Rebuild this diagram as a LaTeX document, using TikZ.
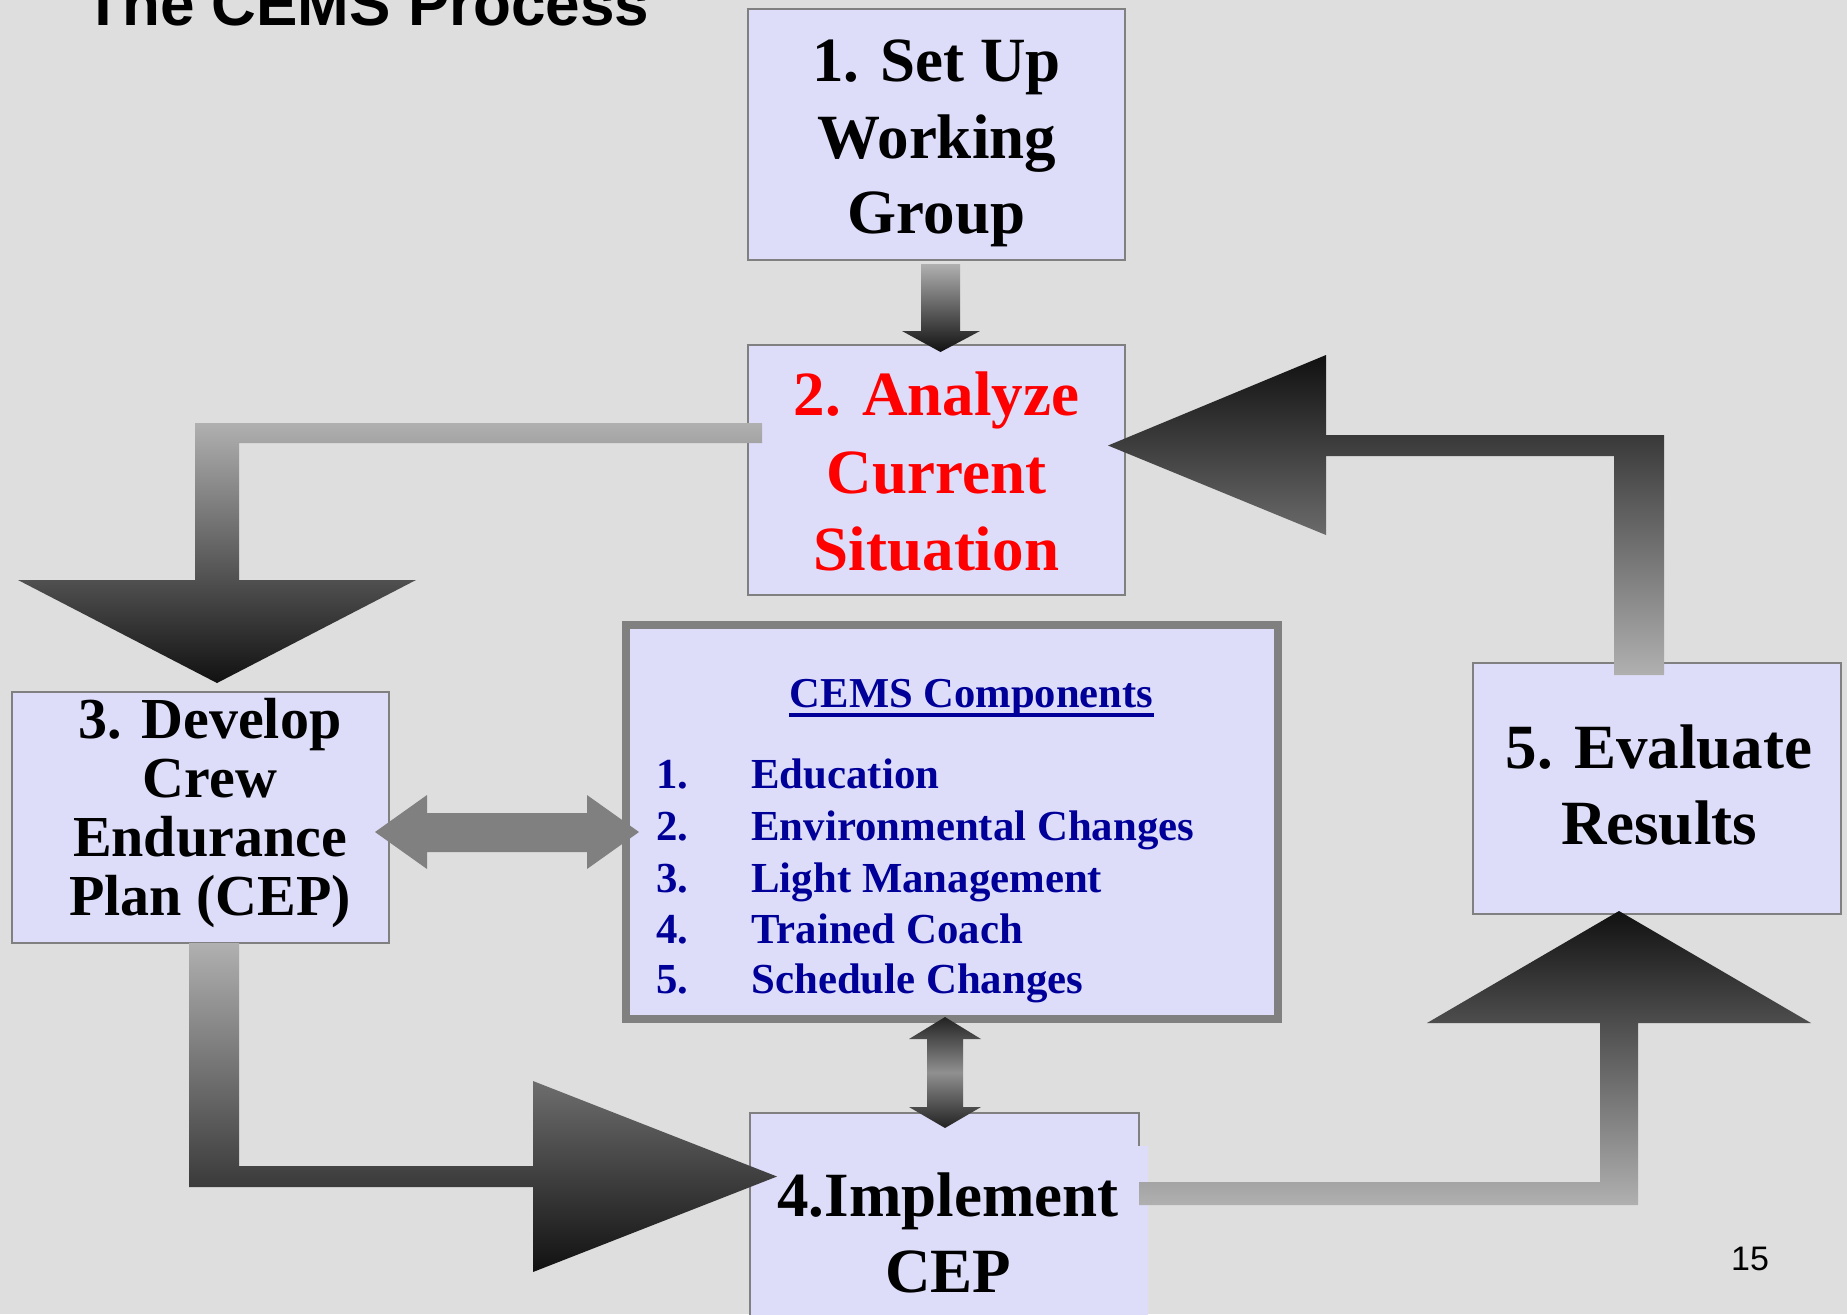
\documentclass[tikz,border=0pt]{standalone}
\usepackage{fontspec}
\setmainfont{Liberation Serif}
\newfontfamily\arialf{Liberation Sans}
\definecolor{bg}{RGB}{222,222,222}
\definecolor{lav}{RGB}{221,221,250}
\definecolor{bord}{RGB}{128,128,128}
\definecolor{navy}{RGB}{0,0,153}
\definecolor{lightar}{RGB}{176,176,176}
\definecolor{darkar}{RGB}{17,17,17}
\definecolor{midar}{RGB}{144,144,144}
\definecolor{endar}{RGB}{34,34,34}
\definecolor{dblar}{RGB}{128,128,128}
\tikzset{
  box/.style={draw=bord, line width=1pt, fill=lav, inner sep=0pt, outer sep=0pt},
  bigtxt/.style={anchor=base, inner sep=0pt, font=\fontsize{31.5pt}{38pt}\selectfont\bfseries},
  devtxt/.style={anchor=base, inner sep=0pt, font=\fontsize{29pt}{30pt}\selectfont\bfseries},
  comptxt/.style={anchor=base west, inner sep=0pt, text=navy, font=\fontsize{21.4pt}{25pt}\selectfont\bfseries},
  downarrow/.style={top color=lightar, bottom color=darkar, draw=none},
  uparrow/.style={top color=darkar, bottom color=lightar, draw=none}
}
\begin{document}
\begin{tikzpicture}[x=0.5pt,y=-0.5pt]
\useasboundingbox (0,0) rectangle (1847,1314);
\clip (0,0) rectangle (1847,1314);
\fill[bg] (0,0) rectangle (1847,1314);

% title and page number
\node[anchor=base west, inner sep=0pt, font=\arialf\bfseries\fontsize{31pt}{36pt}\selectfont] (title) at (84,25) {The CEMS Process};
\node[anchor=base, inner sep=0pt, font=\arialf\fontsize{17pt}{20pt}\selectfont] (pnum) at (1750,1270) {15};

% boxes
\node[box, minimum width=188.5pt, minimum height=125.5pt] (b1) at (936.5,134.5) {};
\node[box, minimum width=188.5pt, minimum height=125pt] (b2) at (936.5,470) {};
\node[box, minimum width=188.5pt, minimum height=125.5pt] (b3) at (200.5,817.5) {};
\node[box, minimum width=184pt, minimum height=125.5pt] (b5) at (1657,788.5) {};
\node[box, minimum width=194.5pt, minimum height=108.5pt] (b4) at (944.5,1221.5) {};
\node[fill=lav, inner sep=0pt, outer sep=0pt, minimum width=198pt, minimum height=86pt] (b4fill) at (950,1232) {};
\node[draw=bord, line width=4pt, fill=lav, inner sep=0pt, outer sep=0pt, minimum width=326pt, minimum height=197pt] (comp) at (952,822) {};

% arrows
\shade[downarrow] (921,264) -- (960,264) -- (960,331) -- (980,331) -- (940.5,352) -- (902,331) -- (921,331) -- cycle;
\shade[downarrow] (762,423) -- (762,443) -- (239,443) -- (239,580) -- (416,580) -- (217,683) -- (18,580) -- (195,580) -- (195,423) -- cycle;
\shade[downarrow] (189,943) -- (239,943) -- (239,1166) -- (533,1166) -- (533,1081) -- (777,1176.5) -- (533,1272) -- (533,1187) -- (189,1187) -- cycle;
\shade[uparrow] (1139,1182) -- (1600,1182) -- (1600,1023) -- (1427,1023) -- (1619,911) -- (1811,1023) -- (1638,1023) -- (1638,1205) -- (1139,1205) -- cycle;
\shade[uparrow] (1614,675) -- (1614,456) -- (1326,456) -- (1326,535) -- (1108,445.5) -- (1326,355) -- (1326,435) -- (1664,435) -- (1664,675) -- cycle;
\fill[dblar] (375,832) -- (427,795) -- (427,813) -- (587,813) -- (587,795) -- (639,832) -- (587,869) -- (587,852) -- (427,852) -- (427,869) -- cycle;
\shade[top color=endar, bottom color=endar, middle color=midar] (945,1017) -- (981,1039) -- (963,1039) -- (963,1107) -- (981,1107) -- (945,1128) -- (909,1107) -- (927,1107) -- (927,1039) -- (909,1039) -- cycle;

% box texts
\node[bigtxt] (t1a) at (936.5,81) {1. Set Up};
\node[bigtxt] (t1b) at (937,158) {Working};
\node[bigtxt] (t1c) at (936.5,233) {Group};
\node[bigtxt, text=red] (t2a) at (936.5,415) {2. Analyze};
\node[bigtxt, text=red] (t2b) at (936.5,493) {Current};
\node[bigtxt, text=red] (t2c) at (936.5,570) {Situation};
\node[devtxt] (t3a) at (210,738) {3. Develop};
\node[devtxt] (t3b) at (210,797) {Crew};
\node[devtxt] (t3c) at (210,856) {Endurance};
\node[devtxt] (t3d) at (210,915) {Plan (CEP)};
\node[bigtxt] (t5a) at (1659,768) {5. Evaluate};
\node[bigtxt] (t5b) at (1659,844) {Results};
\node[bigtxt] (t4a) at (948,1216) {4.Implement};
\node[bigtxt] (t4b) at (948,1292) {CEP};

% components
\node[anchor=base, inner sep=0pt, text=navy, font=\fontsize{21.3pt}{25pt}\selectfont\bfseries] (ct) at (971.5,707) {CEMS Components};
\draw[navy, line width=1.6pt] ([yshift=-4pt]ct.base west) -- ([yshift=-4pt]ct.base east);
\node[comptxt] (n1) at (656,788) {1.};
\node[comptxt] (c1) at (751,788) {Education};
\node[comptxt] (n2) at (656,840) {2.};
\node[comptxt] (c2) at (751,840) {Environmental Changes};
\node[comptxt] (n3) at (656,892) {3.};
\node[comptxt] (c3) at (751,892) {Light Management};
\node[comptxt] (n4) at (656,943) {4.};
\node[comptxt] (c4) at (751,943) {Trained Coach};
\node[comptxt] (n5) at (656,993) {5.};
\node[comptxt] (c5) at (751,993) {Schedule Changes};
\end{tikzpicture}
\end{document}
